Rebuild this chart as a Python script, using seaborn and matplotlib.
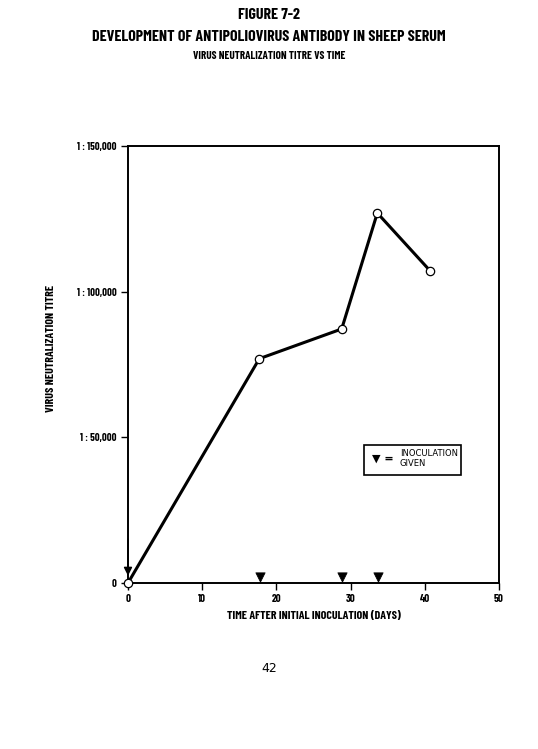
import matplotlib
matplotlib.use("Agg")
import matplotlib.pyplot as plt
import seaborn as sns
import pandas as pd
from matplotlib.patches import Rectangle

# ---- data ----
days = [0, 17.7, 28.8, 33.6, 40.7]
titre = [0, 77000, 87200, 127000, 107200]
inoc_days = [17.8, 28.8, 33.7]
inoc_marker_level = [2200, 2200, 2200]
first_inoc_day = 0
xticks = [0, 10, 20, 30, 40, 50]
yticks = [0, 50000, 100000, 150000]
ytick_labels = ["0", "1 : 50,000", "1 : 100,000", "1 : 150,000"]

sns.set_style("ticks")
COND = "Barlow Condensed"
plt.rcParams["font.family"] = [COND, "DejaVu Sans"]
for k in ["text.color", "axes.labelcolor", "xtick.color", "ytick.color", "axes.edgecolor"]:
    plt.rcParams[k] = "black"

fig = plt.figure(figsize=(5.38, 7.49), dpi=100)
ax = fig.add_axes([128/538, 1-583/749, 371/538, 437/749])

df = pd.DataFrame({"day": days, "titre": titre})
sns.lineplot(data=df, x="day", y="titre", ax=ax, color="black", linewidth=2.2,
             marker="o", markersize=6, markerfacecolor="white",
             markeredgecolor="black", markeredgewidth=0.9, zorder=3, clip_on=False)

idf = pd.DataFrame({"day": inoc_days, "lvl": inoc_marker_level})
sns.scatterplot(data=idf, x="day", y="lvl", ax=ax, marker="v", s=45,
                color="black", edgecolor="black", zorder=3, clip_on=False)

# arrow for first inoculation
ax.annotate("", xy=(first_inoc_day, 1500), xytext=(first_inoc_day, 16000),
            arrowprops=dict(arrowstyle="-|>,head_width=0.25,head_length=0.5",
                            color="black", lw=1.0), annotation_clip=False)

ax.set_xlim(0, 50)
ax.set_ylim(0, 150000)
ax.set_xticks(xticks)
ax.set_xticklabels([str(t) for t in xticks], fontsize=7.8, fontweight="bold")
ax.set_yticks(yticks)
ax.set_yticklabels(ytick_labels, fontsize=7.6, fontweight="bold")
ax.tick_params(direction="out", length=5, width=1, color="black", pad=3)
for s in ax.spines.values():
    s.set_linewidth(1.4)
    s.set_color("black")

ax.set_xlabel("TIME AFTER INITIAL INOCULATION (DAYS)", fontsize=8.6, fontweight="bold", labelpad=5)
ax.set_ylabel("")
fig.text(51/538, 1-348/749, "VIRUS NEUTRALIZATION TITRE", rotation=90,
         ha="center", va="center", fontsize=8.6, fontweight="bold")

# legend box
bx0, by0 = (364-128)/371, (583-475)/437
bw, bh = (461-364)/371, (475-445)/437
ax.add_patch(Rectangle((bx0, by0), bw, bh, transform=ax.transAxes, fill=False,
                       edgecolor="black", linewidth=1.2, zorder=4))
ax.text(bx0 + 0.022, by0 + bh*0.55, "\u25BC =", transform=ax.transAxes,
        fontsize=8, fontweight="bold", va="center", ha="left", family="DejaVu Sans")
ax.text(bx0 + 0.097, by0 + bh*0.55, "INOCULATION\nGIVEN", transform=ax.transAxes,
        fontsize=6, va="center", ha="left", linespacing=1.1, family="DejaVu Sans")

# titles
fig.text(0.5, 1-15/749, "FIGURE 7-2", ha="center", va="center", fontsize=11.5, fontweight="bold")
fig.text(0.5, 1-37/749, "DEVELOPMENT OF ANTIPOLIOVIRUS ANTIBODY IN SHEEP SERUM",
         ha="center", va="center", fontsize=11.5, fontweight="bold")
fig.text(0.5, 1-56/749, "VIRUS NEUTRALIZATION TITRE VS TIME", ha="center", va="center",
         fontsize=8, fontweight="bold")
fig.text(269/538, 1-668/749, "42", ha="center", va="center", fontsize=9, family="DejaVu Sans")

fig.savefig("out.png", dpi=100, facecolor="white")
